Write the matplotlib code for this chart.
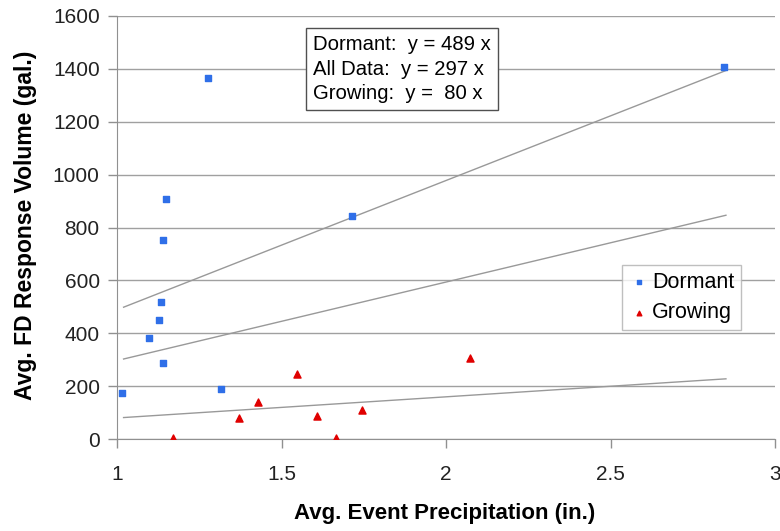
import matplotlib
matplotlib.use('Agg')
import matplotlib.pyplot as plt
import numpy as np

plt.rcParams['font.family'] = ['Liberation Sans', 'DejaVu Sans']

# Dormant season events
dormant_x = [1.015, 1.277, 1.097, 1.128, 1.134, 1.140, 1.149, 1.140, 1.316, 1.714, 2.845]
dormant_y = [174, 1365, 382, 450, 518, 752, 908, 287, 189, 843, 1407]

# Growing season events
growing_x = [1.170, 1.371, 1.429, 1.547, 1.608, 1.666, 1.745, 2.073]
growing_y = [4, 79, 140, 246, 87, 4, 110, 306]

# Fitted slopes (through origin)
slopes = {'Dormant': 489, 'All Data': 297, 'Growing': 80}
fit_x = np.array([1.02, 2.85])

fig = plt.figure(figsize=(7.8, 5.31), dpi=100)
ax = fig.add_axes([0.150, 0.173, 0.844, 0.797])

for k in ['Dormant', 'All Data', 'Growing']:
    ax.plot(fit_x, slopes[k] * fit_x, color='#999999', lw=1.0, zorder=2)

ax.scatter(dormant_x, dormant_y, marker='s', s=22, color='#2f6fe8', label='Dormant', zorder=3)
ax.scatter(growing_x, growing_y, marker='^', s=26, color='#e00000', label='Growing', zorder=3)

ax.set_xlim(1, 3)
ax.set_ylim(0, 1600)
ax.set_xticks([1, 1.5, 2, 2.5, 3])
ax.set_xticklabels(['1', '1.5', '2', '2.5', '3'])
ax.set_yticks(range(0, 1601, 200))
ax.yaxis.grid(True, color='#a0a0a0', lw=1.0)
ax.set_axisbelow(True)
for s in ['top', 'right']:
    ax.spines[s].set_visible(False)
for s in ['left', 'bottom']:
    ax.spines[s].set_color('#909090')
ax.tick_params(colors='#909090', labelcolor='#222222', labelsize=15, length=6.5, width=1)
ax.tick_params(axis='y', pad=6)
ax.tick_params(axis='x', pad=12)

ax.set_xlabel('Avg. Event Precipitation (in.)', fontsize=16, fontweight='bold')
ax.set_ylabel('Avg. FD Response Volume (gal.)', fontsize=16.5, fontweight='bold')
ax.xaxis.set_label_coords(0.497, -0.152)
ax.yaxis.set_label_coords(-0.122, 0.506)

eq_text = 'Dormant:  y = 489 x\nAll Data:  y = 297 x\nGrowing:  y =  80 x'
ax.text(0.298, 0.955, eq_text, transform=ax.transAxes, fontsize=14.6, va='top', ha='left',
        linespacing=1.38,
        bbox=dict(boxstyle='square,pad=0.33', fc='white', ec='#505050', lw=1.0))

leg = ax.legend(loc='upper left', bbox_to_anchor=(0.767, 0.411), fontsize=15.5, frameon=True,
                fancybox=False, edgecolor='#b0b0b0', handletextpad=0.1, handlelength=1.0,
                markerscale=0.65, borderpad=0.3, labelspacing=0.45, borderaxespad=0)
leg.get_frame().set_linewidth(1.0)

fig.savefig('out.png', dpi=100)
